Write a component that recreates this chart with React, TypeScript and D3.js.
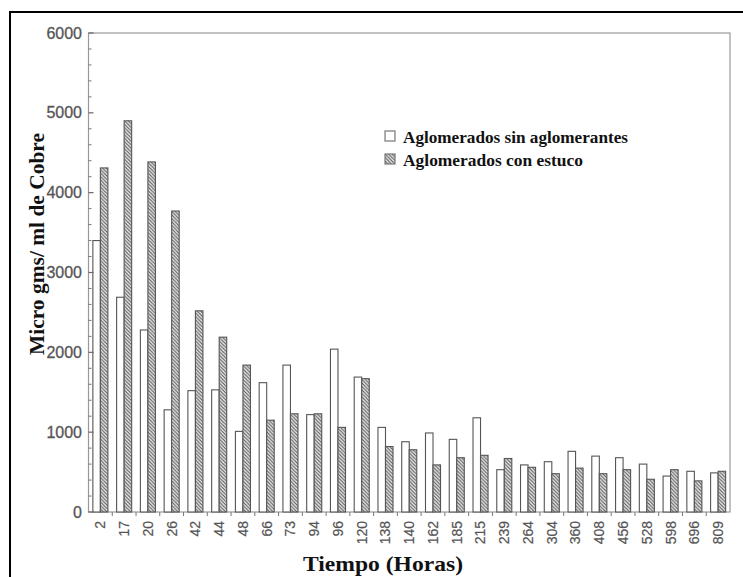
import React from "react";
import * as d3 from "d3";

const categories = ["2","17","20","26","42","44","48","66","73","94","96","120","138","140","162","185","215","239","264","304","360","408","456","528","598","696","809"];
const sinAglomerantes = [3400, 2690, 2280, 1280, 1520, 1530, 1010, 1620, 1840, 1220, 2040, 1690, 1060, 880, 990, 910, 1180, 530, 590, 630, 760, 700, 680, 600, 450, 510, 490];
const conEstuco = [4310, 4900, 4385, 3770, 2520, 2190, 1840, 1150, 1230, 1230, 1060, 1670, 820, 780, 590, 680, 710, 670, 560, 480, 550, 480, 530, 410, 530, 390, 510];
const seriesNames = ["Aglomerados sin aglomerantes", "Aglomerados con estuco"];
const yMajorTicks = [0, 1000, 2000, 3000, 4000, 5000, 6000];

const W = 743, H = 577;
const left = 88.5, right = 730, top = 33, bottom = 512;

export default function App() {
  const x0 = d3.scaleBand<string>().domain(categories).range([left, right]).padding(0);
  const x1 = d3.scaleBand<string>().domain(["a", "b"]).range([0, x0.bandwidth()]).paddingInner(0).paddingOuter(0.58);
  const y = d3.scaleLinear().domain([0, 6000]).range([bottom, top]);
  const minorTicks = d3.range(0, 6001, 200).filter((v) => v % 1000 !== 0);
  const serif = "'Liberation Serif', 'DejaVu Serif', serif";
  const sans = "'Liberation Sans', Arial, sans-serif";
  const legendLengths = [225, 180];

  return (
    <svg width={W} height={H} style={{ position: "absolute", left: 0, top: 0, background: "#fff" }}>
      <defs>
        <pattern id="hatch" patternUnits="userSpaceOnUse" width={3.5} height={3.5}>
          <rect width={3.5} height={3.5} fill="#e4e4e4" />
          <path d="M-1,-1 L4.5,4.5 M-1,2.5 L1,4.5 M2.5,-1 L4.5,1" stroke="#555" strokeWidth={1} />
        </pattern>
      </defs>
      <rect x={10} y={12} width={800} height={700} fill="none" stroke="#000" strokeWidth={2} />
      {/* plot frame */}
      <rect x={left} y={top} width={right - left} height={bottom - top} fill="none" stroke="#999" strokeWidth={1.2} />
      {/* bars */}
      {categories.map((c, i) => (
        <g key={c} transform={`translate(${x0(c)},0)`}>
          <rect x={x1("a")} y={y(sinAglomerantes[i])} width={x1.bandwidth()} height={bottom - y(sinAglomerantes[i])} fill="#fff" stroke="#555" strokeWidth={1.1} />
          <rect x={x1("b")} y={y(conEstuco[i])} width={x1.bandwidth()} height={bottom - y(conEstuco[i])} fill="url(#hatch)" stroke="#555" strokeWidth={1.1} />
        </g>
      ))}
      {/* y ticks */}
      {minorTicks.map((v) => (
        <line key={v} x1={left} x2={left + 3} y1={y(v)} y2={y(v)} stroke="#777" strokeWidth={1} />
      ))}
      {yMajorTicks.map((v) => (
        <g key={v}>
          <line x1={left} x2={left + 5} y1={y(v)} y2={y(v)} stroke="#666" strokeWidth={1.2} />
          <text x={82} y={y(v)} dy="0.35em" textAnchor="end" fontFamily={sans} fontSize={16} fill="#555" stroke="#555" strokeWidth={0.3}>{v}</text>
        </g>
      ))}
      {/* x ticks */}
      {categories.slice(1).map((c) => (
        <line key={c} x1={x0(c)} x2={x0(c)} y1={bottom} y2={bottom + 4} stroke="#777" strokeWidth={1} />
      ))}
      {categories.map((c) => {
        const cx = (x0(c) as number) + x0.bandwidth() / 2;
        return (
          <text key={c} transform={`translate(${cx},521) rotate(-90)`} dy="0.35em" textAnchor="end" fontFamily={sans} fontSize={14} fill="#555" stroke="#555" strokeWidth={0.2}>{c}</text>
        );
      })}
      {/* axis titles */}
      <text x={303} y={571} textLength={160} lengthAdjust="spacingAndGlyphs" fontFamily={serif} fontWeight="bold" fontSize={21} fill="#111">Tiempo (Horas)</text>
      <text transform="translate(44,355) rotate(-90)" textLength={222} lengthAdjust="spacingAndGlyphs" fontFamily={serif} fontWeight="bold" fontSize={20} fill="#111">Micro gms/ ml de Cobre</text>
      {/* legend */}
      {seriesNames.map((s, i) => (
        <g key={s} transform={`translate(385,${131 + i * 23})`}>
          <rect x={0} y={0} width={10} height={10} fill={i === 0 ? "#fff" : "url(#hatch)"} stroke="#777" strokeWidth={1.2} />
          <text x={18} y={12} textLength={legendLengths[i]} lengthAdjust="spacingAndGlyphs" fontFamily={serif} fontWeight="bold" fontSize={17} fill="#111">{s}</text>
        </g>
      ))}
    </svg>
  );
}
